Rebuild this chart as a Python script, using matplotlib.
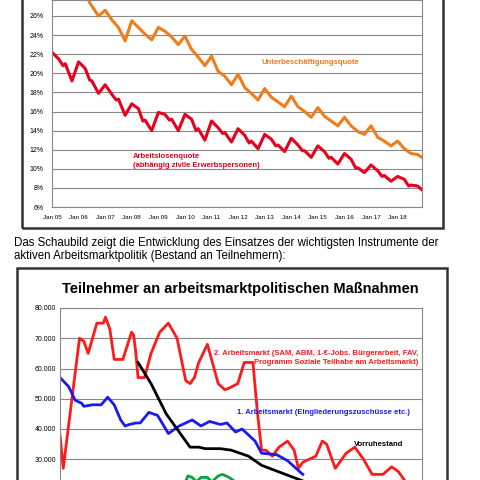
import matplotlib.pyplot as plt
from matplotlib.patches import Rectangle
from matplotlib.ticker import FuncFormatter

# top chart: month index (0 = Jan 05), value in %
alq_months = []
alq_values = [22.2, 21.5, 20.8, 21.0, 19.2,
              21.2, 20.5, 19.3, 19.2, 17.9,
              18.8, 17.8, 17.2, 17.3, 15.6,
              16.8, 16.3, 15.0, 15.1, 14.0,
              15.9, 15.7, 15.1, 15.2, 14.0,
              15.7, 15.2, 14.0, 14.2, 13.0,
              15.0, 14.3, 13.7, 13.8, 12.8,
              14.2, 13.5, 12.7, 12.9, 12.1,
              13.6, 13.1, 12.4, 12.5, 11.8,
              13.2, 12.5, 11.9, 11.9, 11.2,
              12.4, 11.8, 11.1, 11.2, 10.5,
              11.6, 11.0, 10.1, 10.1, 9.6,
              10.4, 9.8, 9.2, 9.3, 8.7,
              9.2, 8.9, 8.2, 8.3, 8.2, 7.8]
for yr in range(14):
    alq_months += [yr * 12 + m for m in (0, 3, 5, 6, 9)]
alq_months.append(167)

ubq_months = [12, 15, 17, 21]
ubq_values = [29.5, 28.5, 27.4, 26.0]
ubq_peaks = [26.6, 25.5, 24.8, 23.9, 21.8, 19.9, 18.4, 17.6, 16.4, 15.4, 14.5, 12.9]
ubq_apr = [25.6, 24.8, 24.4, 22.5, 20.2, 18.5, 17.5, 16.5, 15.5, 14.5, 13.3, 12.1]
ubq_jun = [24.8, 24.1, 23.8, 21.7, 19.7, 17.9, 17.0, 16.0, 15.0, 13.9, 12.9, 11.6]
ubq_oct = [23.4, 23.5, 23.0, 20.8, 18.8, 17.2, 16.5, 15.4, 14.5, 13.6, 12.4, 11.5]
for i in range(12):
    yr = i + 2
    ubq_months += [yr * 12, yr * 12 + 3, yr * 12 + 6, yr * 12 + 9]
    ubq_values += [ubq_peaks[i], ubq_apr[i], ubq_jun[i], ubq_oct[i]]
ubq_months.append(167)
ubq_values.append(11.2)

tick_labels = ["Jan %02d" % y for y in range(5, 19)]

# bottom chart: month index, participants
red_m = [0, 1.5, 9, 11, 13, 17, 20, 21, 23, 25, 29, 33, 34, 35, 36, 39, 42, 46, 50, 54, 58, 60, 62,
         64, 68, 73, 76, 78, 82, 85, 89, 91, 93, 95, 98, 101, 105, 108, 110, 112, 118, 121, 123,
         127, 132, 136, 140, 144, 149, 153, 156, 160, 163, 166, 167]
red_v = [38000, 27000, 70000, 69000, 65000, 75000, 75000, 77000, 73000, 63000, 63000, 72000, 71000,
         65000, 57000, 57000, 65000, 72000, 75000, 70000, 56000, 55000, 57000, 62000, 68000, 55000,
         53000, 53500, 55000, 62000, 62000, 46000, 33000, 33000, 31000, 34000, 36000, 33000, 27000,
         29000, 31000, 36000, 35000, 27000, 32000, 34000, 30000, 25000, 25000, 27500, 26000, 22000,
         20000, 18000, 17000]
blue_m = [0, 4, 7, 10, 11, 15, 19, 22, 25, 28, 30, 32, 35, 37, 41, 45, 50, 52, 55, 58, 61, 65, 69,
          74, 77, 81, 84, 90, 93, 100, 105, 112]
blue_v = [57000, 54000, 49500, 48500, 47500, 48000, 48000, 50500, 48000, 43000, 41000, 41500, 42000,
          42000, 45500, 44500, 38500, 39500, 41000, 42000, 43000, 41000, 42500, 41500, 42000, 39000,
          40000, 36000, 32000, 31500, 29500, 25000]
black_m = [36, 42, 49, 56, 60, 64, 67, 71, 74, 79, 87, 93, 104, 115]
black_v = [62000, 55000, 45000, 38000, 34000, 34000, 33500, 33500, 33500, 33000, 31000, 28000, 25000, 22000]
green_m = [57, 59, 61, 63, 65, 68, 70, 73, 75, 78, 80]
green_v = [21000, 24500, 24000, 22500, 24000, 24000, 22500, 24500, 25000, 24000, 23000]

fig = plt.figure(figsize=(4.8, 4.8), dpi=100)
plt.rcParams['font.family'] = ['Liberation Sans', 'DejaVu Sans']


def px(x0, y0):
    return x0 / 480, 1 - y0 / 480


# frames around the charts
fig.patches.append(Rectangle(px(22, 228), 421 / 480, 240 / 480, transform=fig.transFigure,
                             fill=False, ec='#333333', lw=1.8))
fig.patches.append(Rectangle(px(17, 520), 430 / 480, 252 / 480, transform=fig.transFigure,
                             fill=False, ec='#333333', lw=1.8))

ax1 = fig.add_axes([52 / 480, 1 - 207 / 480, 370 / 480, 207 / 480])
ax1.plot(ubq_months, ubq_values, color='#f07c1a', lw=2.2)
ax1.plot(alq_months, alq_values, color='#e8001c', lw=2.2)
ax1.set_xlim(0, 167)
ax1.set_ylim(6, 6 + 207 / 9.55)
ax1.set_yticks(range(6, 28, 2))
ax1.set_yticklabels(["%d%%" % v for v in range(6, 28, 2)], fontsize=5)
ax1.set_xticks(range(0, 168, 12))
ax1.set_xticklabels(tick_labels, fontsize=4.5)
ax1.grid(axis='y', color='#888888', lw=0.8)
ax1.set_axisbelow(True)
ax1.tick_params(axis='y', length=0, pad=6)
ax1.tick_params(axis='x', length=0, pad=6)
for s in ax1.spines.values():
    s.set_color('#888888')
fig.text(262 / 480, 1 - 62 / 480, "Unterbeschäftigungsquote", color='#f07c1a',
         fontsize=5.5, fontweight='bold', va='center')
fig.text(133 / 480, 1 - 161 / 480, "Arbeitslosenquote\n(abhängig zivile Erwerbspersonen)",
         color='#e8001c', fontsize=5.5, fontweight='bold', va='center', linespacing=1.3)

fig.text(14 / 480, 1 - 243 / 480, "Das Schaubild zeigt die Entwicklung des Einsatzes der wichtigsten Instrumente der",
         fontsize=8.3, va='center')
fig.text(14 / 480, 1 - 256 / 480, "aktiven Arbeitsmarktpolitik (Bestand an Teilnehmern):",
         fontsize=8.3, va='center')

fig.text(240 / 480, 1 - 289 / 480, "Teilnehmer an arbeitsmarktpolitischen Maßnahmen",
         fontsize=10.5, fontweight='bold', ha='center', va='center')

ax2 = fig.add_axes([60 / 480, 1 - 550 / 480, 362 / 480, 242 / 480])
ax2.plot(red_m, red_v, color='#ff1a1a', lw=2)
ax2.plot(blue_m, blue_v, color='#1a1aee', lw=2)
ax2.plot(black_m, black_v, color='black', lw=2)
ax2.plot(green_m, green_v, color='#10a040', lw=2)
ax2.set_xlim(0, 167)
ax2.set_ylim(0, 80000)
ax2.set_yticks(range(30000, 80001, 10000))
ax2.yaxis.set_major_formatter(FuncFormatter(lambda v, p: "{:,}".format(int(v)).replace(",", ".")))
ax2.tick_params(labelsize=5, length=0, pad=3)
ax2.set_xticks([])
ax2.grid(axis='y', color='#888888', lw=0.8)
ax2.set_axisbelow(True)
for s in ax2.spines.values():
    s.set_color('#888888')
fig.text(418 / 480, 1 - 358 / 480,
         "2. Arbeitsmarkt (SAM, ABM, 1-€-Jobs. Bürgerarbeit, FAV,\nProgramm Soziale Teilhabe am Arbeitsmarkt)",
         color='#ff1a1a', fontsize=5.5, fontweight='bold', ha='right', va='center',
         multialignment='right', linespacing=1.4)
fig.text(410 / 480, 1 - 413 / 480, "1. Arbeitsmarkt (Eingliederungszuschüsse etc.)",
         color='#1a1aee', fontsize=5.5, fontweight='bold', ha='right', va='center')
fig.text(403 / 480, 1 - 445 / 480, "Vorruhestand", color='black', fontsize=5.5,
         fontweight='bold', ha='right', va='center')

fig.savefig("out.png", dpi=100)
